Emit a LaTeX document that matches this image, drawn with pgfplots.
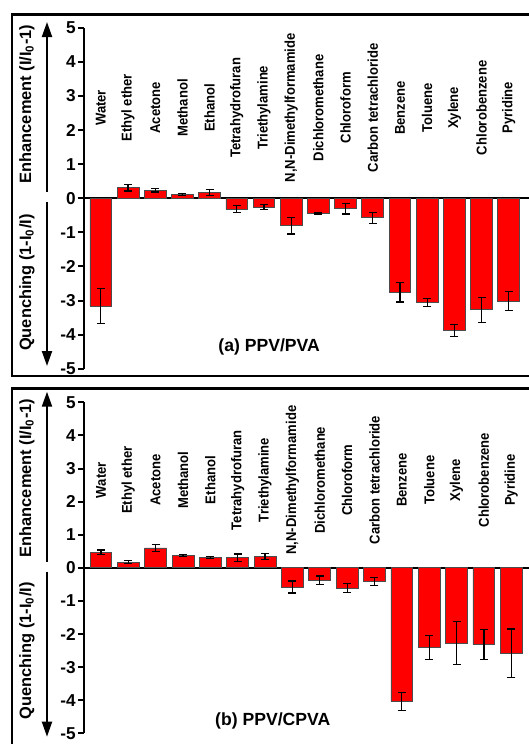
\documentclass[border=0pt]{standalone}
\usepackage{fontspec}
\setmainfont{Liberation Sans}
\usepackage{graphicx}
\usepackage{pgfplots}
\pgfplotsset{compat=1.18}
\usepackage{pgfplotstable}
\usetikzlibrary{arrows.meta}

\pgfplotstableread{
x y err
0 -3.16 0.52
1 0.31 0.10
2 0.235 0.05
3 0.12 0.03
4 0.17 0.08
5 -0.32 0.10
6 -0.26 0.07
7 -0.81 0.24
8 -0.44 0.02
9 -0.31 0.15
10 -0.57 0.16
11 -2.76 0.28
12 -3.06 0.12
13 -3.88 0.17
14 -3.27 0.37
15 -3.01 0.27
}\dataA

\pgfplotstableread{
x y err
0 0.47 0.07
1 0.17 0.05
2 0.60 0.10
3 0.37 0.04
4 0.31 0.03
5 0.31 0.11
6 0.34 0.10
7 -0.58 0.18
8 -0.38 0.13
9 -0.61 0.14
10 -0.41 0.12
11 -4.04 0.28
12 -2.41 0.37
13 -2.27 0.66
14 -2.32 0.46
15 -2.58 0.73
}\dataB

\newcommand{\lab}[1]{\scalebox{0.92}[1]{#1}}
\tikzset{catlab/.style={rotate=90, inner sep=0pt, font=\bfseries\fontsize{7.1}{8}\selectfont}}
\newcommand{\catnodes}{%
\node[catlab] at (axis cs:0,2.65) {\lab{Water}};
\node[catlab] at (axis cs:1,2.65) {\lab{Ethyl ether}};
\node[catlab] at (axis cs:2,2.65) {\lab{Acetone}};
\node[catlab] at (axis cs:3,2.65) {\lab{Methanol}};
\node[catlab] at (axis cs:4,2.65) {\lab{Ethanol}};
\node[catlab] at (axis cs:5,2.65) {\lab{Tetrahydrofuran}};
\node[catlab] at (axis cs:6,2.65) {\lab{Triethylamine}};
\node[catlab] at (axis cs:7,2.65) {\lab{N,N-Dimethylformamide}};
\node[catlab] at (axis cs:8,2.65) {\lab{Dichloromethane}};
\node[catlab] at (axis cs:9,2.65) {\lab{Chloroform}};
\node[catlab] at (axis cs:10,2.65) {\lab{Carbon tetrachloride}};
\node[catlab] at (axis cs:11,2.65) {\lab{Benzene}};
\node[catlab] at (axis cs:12,2.65) {\lab{Toluene}};
\node[catlab] at (axis cs:13,2.65) {\lab{Xylene}};
\node[catlab] at (axis cs:14,2.65) {\lab{Chlorobenzene}};
\node[catlab] at (axis cs:15,2.65) {\lab{Pyridine}};
}

\pgfplotsset{
  panel/.style={
    scale only axis,
    anchor=south west,
    xmin=-0.62, xmax=16,
    ymin=-5, ymax=5,
    axis y line=left,
    axis x line*=middle,
    axis line style={-, line width=1pt, black},
    x axis line style={-},
    y axis line style={-},
    xtick=\empty,
    ytick={-5,-4,-3,-2,-1,0,1,2,3,4,5},
    yticklabels={-5,-4,-3,-2,-1,0,1,2,3,4,5},
    yticklabel style={font=\bfseries\fontsize{8.6}{9}\selectfont, inner sep=1pt},
    tick align=outside,
    major tick length=3pt,
    every tick/.style={black, line width=1pt},
    clip=false,
  },
  barstyle/.style={
    ybar, bar width=0.8, fill=red, draw=black!70, line width=0.4pt,
    error bars/.cd, y dir=both, y explicit,
    error bar style={black, line width=0.6pt},
    error mark options={rotate=90, black, line width=0.6pt, mark size=2pt},
  },
}

\begin{document}
\begin{tikzpicture}
\useasboundingbox (0,0) rectangle (264.5pt,-372pt);
\clip (0,0) rectangle (264.5pt,-372pt);

% frames
\draw[line width=1.3pt] (6pt,-7.35pt) rectangle (285pt,-188pt);
\draw[line width=1.3pt] (6pt,-194.15pt) rectangle (285pt,-385pt);

% panel (a)
\begin{axis}[panel, at={(42pt,-184.4pt)}, width=225.95pt, height=170.55pt]
\addplot[barstyle] table[x=x, y=y, y error=err] {\dataA};
\catnodes
\node[font=\bfseries\fontsize{8.8}{10}\selectfont] at (axis cs:6.19,-4.36) {(a) PPV/PVA};
\end{axis}

% panel (b)
\begin{axis}[panel, at={(42pt,-366.65pt)}, width=227.3pt, height=165.5pt]
\addplot[barstyle] table[x=x, y=y, y error=err] {\dataB};
\catnodes
\node[font=\bfseries\fontsize{8.8}{10}\selectfont] at (axis cs:6.28,-4.62) {(b) PPV/CPVA};
\end{axis}

% y-axis labels and arrows
\tikzset{ylab/.style={rotate=90, inner sep=0pt, font=\bfseries\fontsize{8.2}{9}\selectfont},
         yarr/.style={line width=1pt, -{Triangle[width=5pt,length=7.5pt]}}}
\node[ylab] at (13.5pt,-52pt) {Enhancement (I/I\textsubscript{0}-1)};
\node[ylab] at (13.5pt,-141.25pt) {Quenching (1-I\textsubscript{0}/I)};
\draw[yarr] (23.5pt,-96pt) -- (23.5pt,-11pt);
\draw[yarr] (23.5pt,-101pt) -- (23.5pt,-183pt);

\node[ylab] at (13.5pt,-239pt) {Enhancement (I/I\textsubscript{0}-1)};
\node[ylab] at (13.5pt,-325.35pt) {Quenching (1-I\textsubscript{0}/I)};
\draw[yarr] (23.5pt,-280.85pt) -- (23.5pt,-195.85pt);
\draw[yarr] (23.5pt,-285.85pt) -- (23.5pt,-368.35pt);
\end{tikzpicture}
\end{document}
